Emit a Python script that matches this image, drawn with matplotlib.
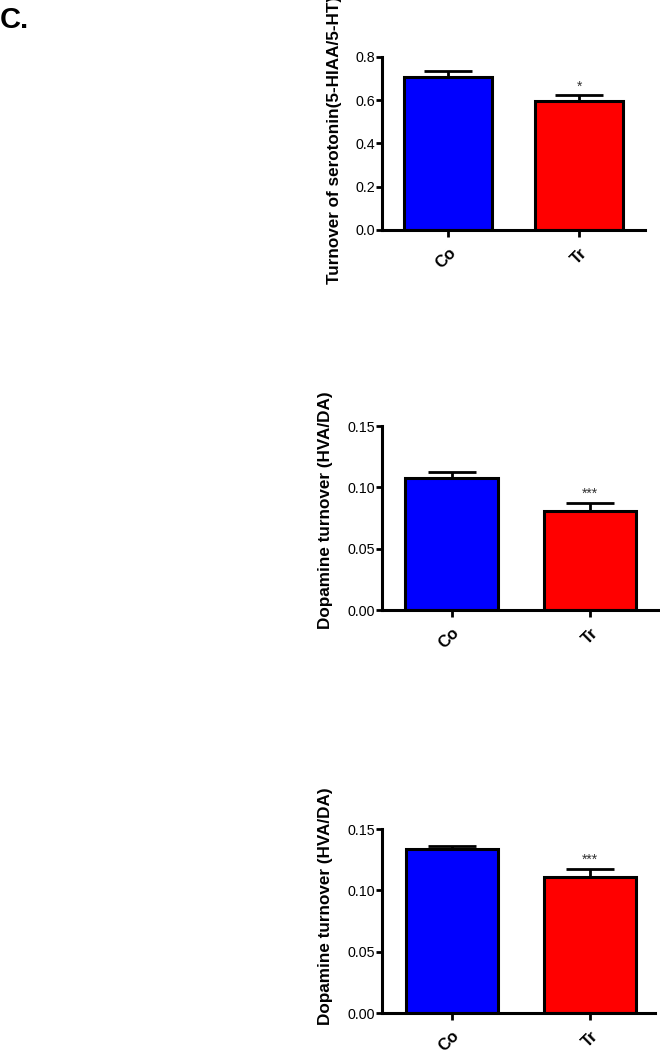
import matplotlib
matplotlib.use("Agg")
import matplotlib.pyplot as plt
import numpy as np

plt.rcParams['font.family'] = ['Liberation Sans', 'DejaVu Sans']

groups = ["Co", "Tr"]
colors = ["#0000ff", "#ff0000"]

serotonin_mean = [0.705, 0.598]
serotonin_sem = [0.030, 0.025]
dopamine1_mean = [0.1075, 0.081]
dopamine1_sem = [0.0050, 0.0065]
dopamine2_mean = [0.1335, 0.111]
dopamine2_sem = [0.0030, 0.0068]

panels = [
    dict(mean=serotonin_mean, sem=serotonin_sem, ylim=0.8, ticks=[0.0, 0.2, 0.4, 0.6, 0.8],
         fmt="{:.1f}", ylabel="Turnover of serotonin(5-HIAA/5-HT)", stars="*",
         rect=[0.5788, 0.781, 0.3985, 0.1648], xr=1.504, lc=(-0.151, 0.523)),
    dict(mean=dopamine1_mean, sem=dopamine1_sem, ylim=0.15, ticks=[0.00, 0.05, 0.10, 0.15],
         fmt="{:.2f}", ylabel="Dopamine turnover (HVA/DA)", stars="***",
         rect=[0.5788, 0.419, 0.4212, 0.1752], xr=1.507, lc=(-0.175, 0.541)),
    dict(mean=dopamine2_mean, sem=dopamine2_sem, ylim=0.15, ticks=[0.00, 0.05, 0.10, 0.15],
         fmt="{:.2f}", ylabel="Dopamine turnover (HVA/DA)", stars="***",
         rect=[0.5788, 0.0352, 0.4136, 0.1752], xr=1.47, lc=(-0.18, 0.58)),
]

fig = plt.figure(figsize=(6.6, 10.5), dpi=100)

for p in panels:
    ax = fig.add_axes(p["rect"])
    x = np.arange(len(groups))
    ax.errorbar(x, p["mean"], yerr=[np.zeros(len(groups)), p["sem"]], fmt="none",
                ecolor="black", elinewidth=2, capsize=17.5, capthick=2, zorder=1)
    ax.bar(x, p["mean"], width=0.67, color=colors, edgecolor="black", linewidth=2.2, zorder=2)
    for xi, m, s in zip(x, p["mean"], p["sem"]):
        if xi == 1:
            ax.text(xi, m + s + p["ylim"] * 0.01, p["stars"], ha="center", va="bottom",
                    fontsize=10, color="#333333")
    ax.set_xlim(-0.505, p["xr"])
    ax.set_ylim(0, p["ylim"])
    ax.set_yticks(p["ticks"])
    ax.set_yticklabels([p["fmt"].format(t) for t in p["ticks"]], fontsize=10.3)
    ax.set_xticks(x)
    ax.set_xticklabels(groups, rotation=45, ha="right", rotation_mode="anchor",
                       fontsize=12, fontweight="bold")
    ax.spines["top"].set_visible(False)
    ax.spines["right"].set_visible(False)
    ax.spines["left"].set_linewidth(2.2)
    ax.spines["bottom"].set_linewidth(2.2)
    ax.spines["left"].set_bounds(0, p["ylim"])
    ax.tick_params(axis="y", direction="out", length=4, width=2, pad=1)
    ax.tick_params(axis="x", direction="out", length=5, width=2, pad=6)
    ax.set_ylabel(p["ylabel"], fontsize=12.3, fontweight="bold")
    ax.yaxis.set_label_coords(*p["lc"])
    for sp in ax.spines.values():
        sp.set_clip_on(False)

fig.text(0.0, 0.994, "C.", fontsize=21, fontweight="bold", ha="left", va="top")

fig.savefig("out.png", dpi=100)
